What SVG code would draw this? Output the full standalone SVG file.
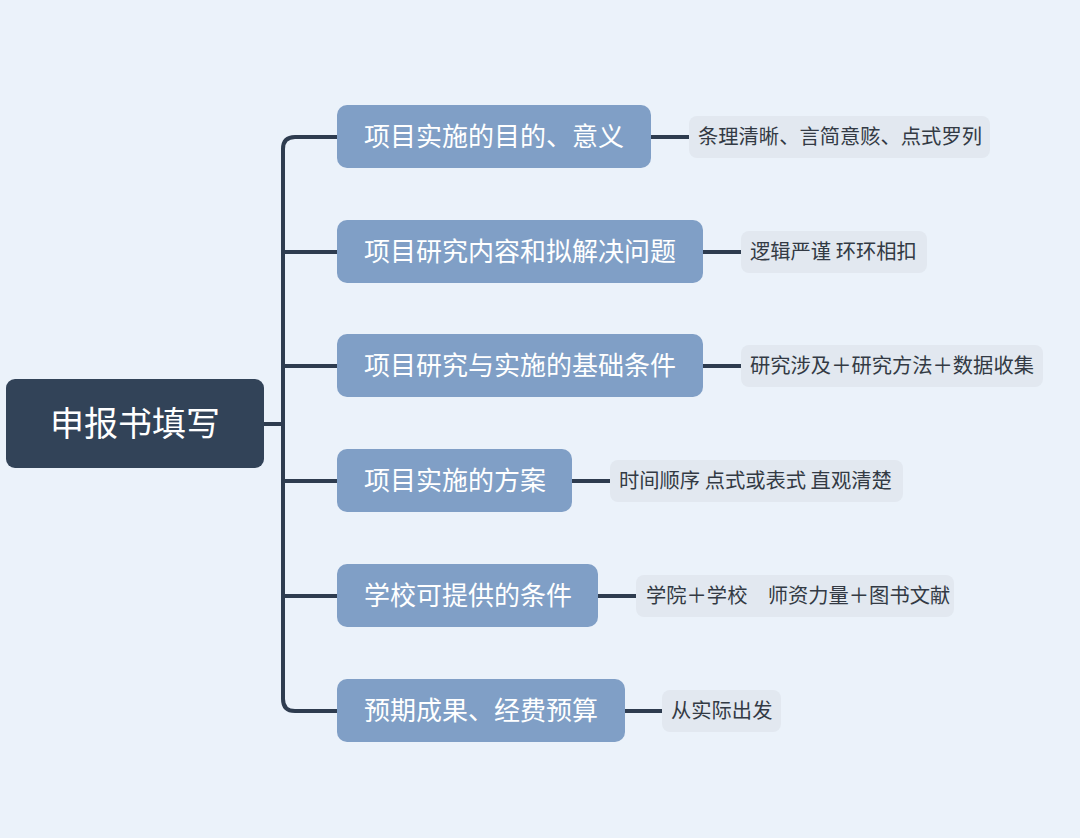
<svg xmlns="http://www.w3.org/2000/svg" width="1080" height="838" viewBox="0 0 1080 838">
<style>
.bg{fill:#ebf2fa}
.root rect{fill:#324358}
.root text{fill:#ffffff;font-size:34px;text-anchor:middle}
.br rect{fill:#809fc6}
.br text{fill:#ffffff;font-size:26px}
.lf rect{fill:#e2e8f0}
.lf text{fill:#333a44;font-size:20.3px}
text{font-family:"Noto Sans CJK SC","Noto Sans",sans-serif}
.conn{fill:none;stroke:#2e3c4f;stroke-width:4;stroke-linecap:butt}
</style>
<rect class="bg" x="0" y="0" width="1080" height="838"/>
<g id="connectors">
<path class="conn" d="M337,137 H295 Q283,137 283,149 V699 Q283,711 295,711 H337"/>
<path class="conn" d="M264,424 H283"/>
<path class="conn" d="M283,252 H337"/>
<path class="conn" d="M283,366 H337"/>
<path class="conn" d="M283,481 H337"/>
<path class="conn" d="M283,596 H337"/>
<path class="conn" d="M651,137 H689"/>
<path class="conn" d="M703,252 H741"/>
<path class="conn" d="M703,366 H741"/>
<path class="conn" d="M572,481 H610"/>
<path class="conn" d="M598,596 H636"/>
<path class="conn" d="M625,711 H662"/>
</g>
<g id="root" class="root">
<rect x="6" y="379" width="258" height="89" rx="9"/>
<text x="135" y="436">申报书填写</text>
</g>
<g id="b1" class="br"><rect x="337" y="105" width="314" height="63" rx="10"/><text x="364" y="146">项目实施的目的、意义</text></g>
<g id="b2" class="br"><rect x="337" y="220" width="366" height="63" rx="10"/><text x="364" y="261">项目研究内容和拟解决问题</text></g>
<g id="b3" class="br"><rect x="337" y="334" width="366" height="63" rx="10"/><text x="364" y="375">项目研究与实施的基础条件</text></g>
<g id="b4" class="br"><rect x="337" y="449" width="235" height="63" rx="10"/><text x="364" y="490">项目实施的方案</text></g>
<g id="b5" class="br"><rect x="337" y="564" width="261" height="63" rx="10"/><text x="364" y="605">学校可提供的条件</text></g>
<g id="b6" class="br"><rect x="337" y="679" width="288" height="63" rx="10"/><text x="364" y="720">预期成果、经费预算</text></g>
<g id="l1" class="lf"><rect x="689" y="116" width="301" height="42" rx="8"/><text x="698" y="144">条理清晰、言简意赅、点式罗列</text></g>
<g id="l2" class="lf"><rect x="741" y="231" width="186" height="42" rx="8"/><text x="750" y="259">逻辑严谨 环环相扣</text></g>
<g id="l3" class="lf"><rect x="741" y="345" width="302" height="42" rx="8"/><text x="750" y="373">研究涉及＋研究方法＋数据收集</text></g>
<g id="l4" class="lf"><rect x="610" y="460" width="293" height="42" rx="8"/><text x="619" y="488">时间顺序 点式或表式 直观清楚</text></g>
<g id="l5" class="lf"><rect x="636" y="575" width="318" height="42" rx="8"/><text x="646" y="603">学院＋学校　师资力量＋图书文献</text></g>
<g id="l6" class="lf"><rect x="662" y="690" width="119" height="42" rx="8"/><text x="671" y="718">从实际出发</text></g>
</svg>
